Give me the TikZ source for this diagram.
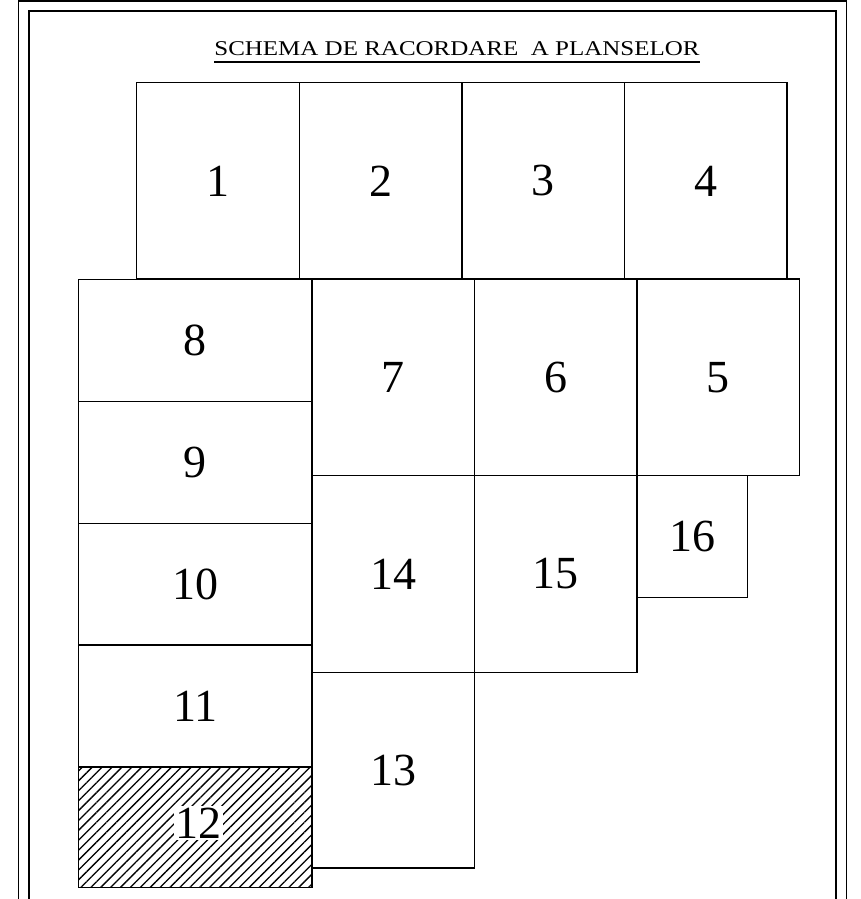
\documentclass[tikz,border=0pt]{standalone}
\usepackage{fontspec}
\setmainfont{Liberation Serif}
\usetikzlibrary{patterns.meta}

\tikzset{
  rama/.style={line width=1.4pt},
  plansa/.style={draw, line width=1.4pt, inner sep=0pt, font=\fontsize{46}{46}\selectfont},
  sus/.style={plansa, minimum width=162.6pt, minimum height=196.3pt},
  mijloc/.style={plansa, minimum width=162.5pt, minimum height=196.5pt},
  stanga/.style={plansa, minimum width=233.5pt, minimum height=122pt},
}

\begin{document}
\begin{tikzpicture}[x=1pt, y=-1pt]
  \useasboundingbox (0,0) rectangle (860,899);
  \clip (0,0) rectangle (860,899);

  % Rama dubla
  \draw[rama] (18.7,1) rectangle (846.5,930);
  \draw[rama] (29,11) rectangle (836,930);

  % Titlu
  \node[anchor=base, inner sep=0pt, font=\fontsize{21}{21}\selectfont] (titlu) at (457,56)
    {\scalebox{1.19}[1]{SCHEMA DE RACORDARE\ \ A PLANSELOR}};
  \draw[line width=1.2pt] ([yshift=-6pt]titlu.base west) -- ([yshift=-6pt]titlu.base east);

  % Randul de sus
  \node[sus] (p1) at (218,180.9) {1};
  \node[sus] (p2) at (380.5,180.9) {2};
  \node[sus] (p3) at (543,180.9) {3};
  \node[sus] (p4) at (705.7,180.9) {4};

  % Randul din mijloc
  \node[mijloc] (p7) at (393.2,377.3) {7};
  \node[mijloc] (p6) at (555.7,377.3) {6};
  \node[mijloc] (p5) at (718.2,377.3) {5};

  % Coloana din stanga
  \node[stanga] (p8) at (195.3,340.2) {8};
  \node[stanga] (p9) at (195.3,462.3) {9};
  \node[stanga] (p10) at (195.3,584.2) {10};
  \node[stanga] (p11) at (195.3,705.9) {11};
  \node[stanga, minimum height=121pt,
    pattern={Lines[angle=45, distance=7pt, line width=1.3pt]}] (p12) at (195.3,827.2) {};
  \node[fill=white, inner sep=1.5pt, font=\fontsize{46}{46}\selectfont] (n12) at (198,823) {12};

  % Restul
  \node[mijloc, minimum height=196.8pt] (p14) at (393.2,573.9) {14};
  \node[mijloc, minimum height=196.8pt] (p15) at (555.7,573.9) {15};
  \node[plansa, minimum width=110.3pt, minimum height=122.2pt] (p16) at (692.2,536.6) {16};
  \node[mijloc, minimum height=195.7pt] (p13) at (393.2,770.2) {13};
\end{tikzpicture}
\end{document}
